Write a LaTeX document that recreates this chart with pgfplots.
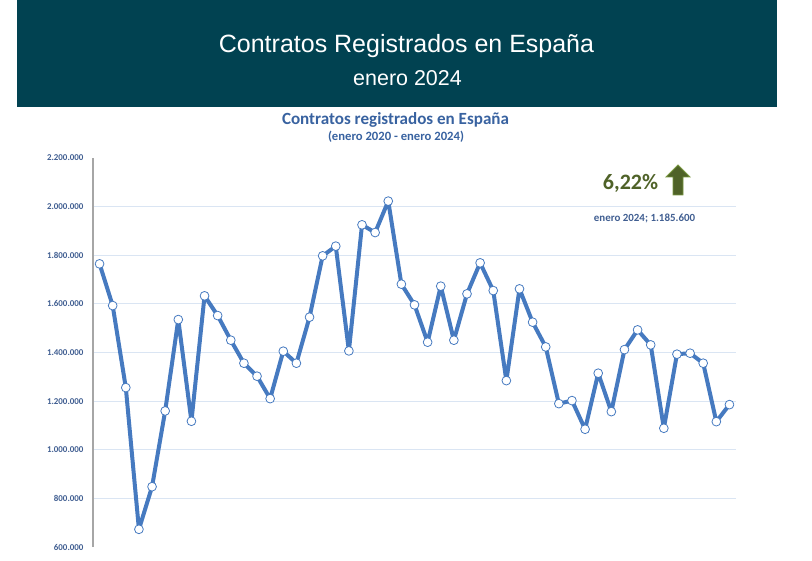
\documentclass[border=0pt]{standalone}
\usepackage{pgfplots}
\pgfplotsset{compat=1.18}
\usepackage{fontspec}
\setmainfont{Carlito}
\newfontfamily\titlefont{Liberation Sans}
\definecolor{band}{RGB}{1,66,81}
\definecolor{ctitle}{RGB}{56,98,160}
\definecolor{tickblue}{RGB}{64,94,145}
\definecolor{lineblue}{RGB}{70,122,192}
\definecolor{gridblue}{RGB}{218,229,243}
\definecolor{dgreen}{RGB}{79,98,40}
\definecolor{lgreen}{RGB}{120,150,64}
\def\u{0.75pt}
\begin{document}
\begin{tikzpicture}
\useasboundingbox (0,0) rectangle (609pt,420pt);
\fill[band] ({17*\u},{(560-107)*\u}) rectangle ({777*\u},420pt);
\node[anchor=base, text=white, inner sep=0pt, font=\titlefont\fontsize{18.75pt}{20pt}\selectfont] at ({406.5*\u},{(560-53)*\u}) {Contratos Registrados en España};
\node[anchor=base, text=white, inner sep=0pt, font=\titlefont\fontsize{16.1pt}{18pt}\selectfont] at ({407.5*\u},{(560-86)*\u}) {enero 2024};
\node[anchor=base, text=ctitle, inner sep=0pt, font=\bfseries\fontsize{12.8pt}{14pt}\selectfont] at ({395.5*\u},{(560-125)*\u}) {Contratos registrados en España};
\node[anchor=base, text=ctitle, inner sep=0pt, font=\bfseries\fontsize{9.5pt}{11pt}\selectfont] at ({396*\u},{(560-141)*\u}) {(enero 2020 - enero 2024)};
\begin{axis}[
  at={({93*\u},{13*\u})}, anchor=south west,
  scale only axis, width={643*\u}, height={389*\u},
  xmin=0.5, xmax=49.5, ymin=600000, ymax=2200000,
  axis y line=left, axis x line=none,
  axis line style={-, draw=black!35, line width=0.8pt},
  xtick=\empty,
  ytick={800000,1000000,1200000,1400000,1600000,1800000,2000000},
  extra y ticks={600000,2200000},
  extra y tick style={grid=none},
  scaled y ticks=false,
  major tick length=0pt,
  ymajorgrids, grid style={gridblue, line width=0.8pt},
  /pgf/number format/.cd, fixed, 1000 sep={.}, assume math mode=true,
  /pgfplots/.cd,
  yticklabel style={font=\bfseries\fontsize{6.7pt}{7pt}\selectfont, text=tickblue, xshift=-3.6pt},
  clip=false,
]
\addplot[color=lineblue, line width=3pt, line join=round, line cap=round, mark=*, mark size=3.3pt,
  mark options={fill=white, draw=lineblue, line width=0.6pt}] coordinates {
(1,1764600) (2,1593000) (3,1255600) (4,672800) (5,848100) (6,1159700)
(7,1535400) (8,1117300) (9,1633000) (10,1551900) (11,1450600) (12,1356000)
(13,1302500) (14,1210300) (15,1405300) (16,1356000) (17,1545300) (18,1797500)
(19,1837400) (20,1406600) (21,1925100) (22,1893400) (23,2022600) (24,1681100)
(25,1595900) (26,1442400) (27,1672800) (28,1450600) (29,1641200) (30,1768700)
(31,1654700) (32,1284400) (33,1661700) (34,1524700) (35,1423000) (36,1189700)
(37,1202100) (38,1084400) (39,1314800) (40,1156800) (41,1411900) (42,1493000)
(43,1431300) (44,1088500) (45,1393000) (46,1397100) (47,1356000) (48,1115600)
(49,1185600)
};
\end{axis}
\node[anchor=base, text=dgreen, inner sep=0pt, font=\bfseries\fontsize{16.5pt}{18pt}\selectfont] at ({630.5*\u},{(560-190)*\u}) {6,22\%};
\filldraw[fill=dgreen, draw=lgreen, line width=0.6pt]
  ({678*\u},{(560-165)*\u}) -- ({690*\u},{(560-177)*\u}) -- ({683*\u},{(560-177)*\u})
  -- ({683*\u},{(560-195)*\u}) -- ({673*\u},{(560-195)*\u}) -- ({673*\u},{(560-177)*\u})
  -- ({666*\u},{(560-177)*\u}) -- cycle;
\node[anchor=base, text=tickblue, inner sep=0pt, font=\bfseries\fontsize{8.2pt}{9pt}\selectfont] at ({644.5*\u},{(560-222)*\u}) {enero 2024; 1.185.600};
\end{tikzpicture}
\end{document}
